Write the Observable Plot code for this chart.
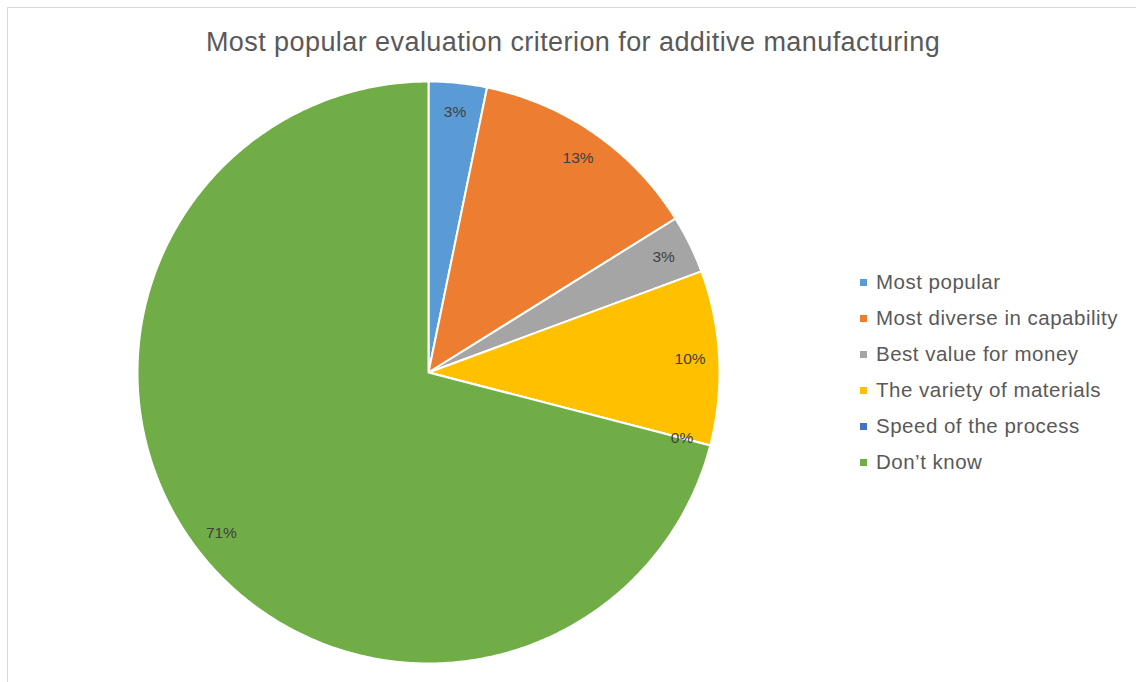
<!DOCTYPE html>
<html>
<head>
<meta charset="utf-8">
<script src="https://cdn.jsdelivr.net/npm/d3@7"></script>
<script src="https://cdn.jsdelivr.net/npm/@observablehq/plot@0.6"></script>
<style>
  html, body { margin: 0; padding: 0; background: #fff; }
  body { width: 1136px; height: 682px; overflow: hidden; position: relative; font-family: "Liberation Sans", Arial, sans-serif; }
  #frame { position: absolute; left: 7px; top: 7px; width: 1200px; height: 800px; border: 1px solid #d9d9d9; box-sizing: border-box; }
  #title { position: absolute; left: 0; width: 1146px; top: 27px; text-align: center; font-size: 27px; letter-spacing: 0.43px; color: #595959; line-height: 30px; white-space: nowrap; }
  #chart { position: absolute; left: 128px; top: 72px; }
  #legend { position: absolute; left: 860px; top: 264px; }
  .row { height: 36px; display: flex; align-items: center; font-size: 20.5px; letter-spacing: 0.5px; color: #595959; white-space: nowrap; }
  .sw { width: 7px; height: 7px; margin-right: 9px; flex: none; }
</style>
</head>
<body>
<div id="frame"></div>
<div id="title">Most popular evaluation criterion for additive manufacturing</div>
<div id="chart"></div>
<div id="legend"></div>
<script>
const categories = ["Most popular", "Most diverse in capability", "Best value for money", "The variety of materials", "Speed of the process", "Don\u2019t know"];
const counts = [1, 4, 1, 3, 0, 22];
const colors = ["#5B9BD5", "#ED7D31", "#A5A5A5", "#FFC000", "#4472C4", "#70AD47"];

const total = d3.sum(counts);
const fmt = d3.format(".0%");
const arcs = d3.pie().sort(null).value(d => d)(counts);

// Slice outlines as polygons in unit coordinates (angle clockwise from 12 o'clock)
const slicePts = [];
arcs.forEach((a, i) => {
  slicePts.push({cat: categories[i], x: 0, y: 0});
  const n = Math.max(2, Math.ceil((a.endAngle - a.startAngle) / 0.01));
  for (let k = 0; k <= n; k++) {
    const t = a.startAngle + (a.endAngle - a.startAngle) * k / n;
    slicePts.push({cat: categories[i], x: Math.sin(t), y: Math.cos(t)});
  }
});

const labelPts = arcs.map((a, i) => {
  const m = (a.startAngle + a.endAngle) / 2;
  return {cat: categories[i], x: 0.9 * Math.sin(m), y: 0.9 * Math.cos(m), label: fmt(counts[i] / total)};
});

const plot = Plot.plot({
  width: 600,
  height: 600,
  margin: 9,
  x: {domain: [-1, 1], axis: null},
  y: {domain: [-1, 1], axis: null},
  color: {domain: categories, range: colors},
  style: {background: "transparent", overflow: "visible"},
  marks: [
    Plot.line(slicePts, {x: "x", y: "y", z: "cat", fill: "cat", stroke: "white", strokeWidth: 2, curve: "linear-closed", strokeLinejoin: "round"}),
    Plot.text(labelPts, {x: "x", y: "y", text: "label", fill: "#404040", fontSize: 15.5, fontFamily: "Liberation Sans, Arial, sans-serif"})
  ]
});
document.getElementById("chart").appendChild(plot);

const legend = document.getElementById("legend");
categories.forEach((c, i) => {
  const row = document.createElement("div");
  row.className = "row";
  const sw = document.createElement("div");
  sw.className = "sw";
  sw.style.background = plot.scale("color").apply(c);
  const tx = document.createElement("span");
  tx.textContent = c;
  row.appendChild(sw);
  row.appendChild(tx);
  legend.appendChild(row);
});
</script>
</body>
</html>
